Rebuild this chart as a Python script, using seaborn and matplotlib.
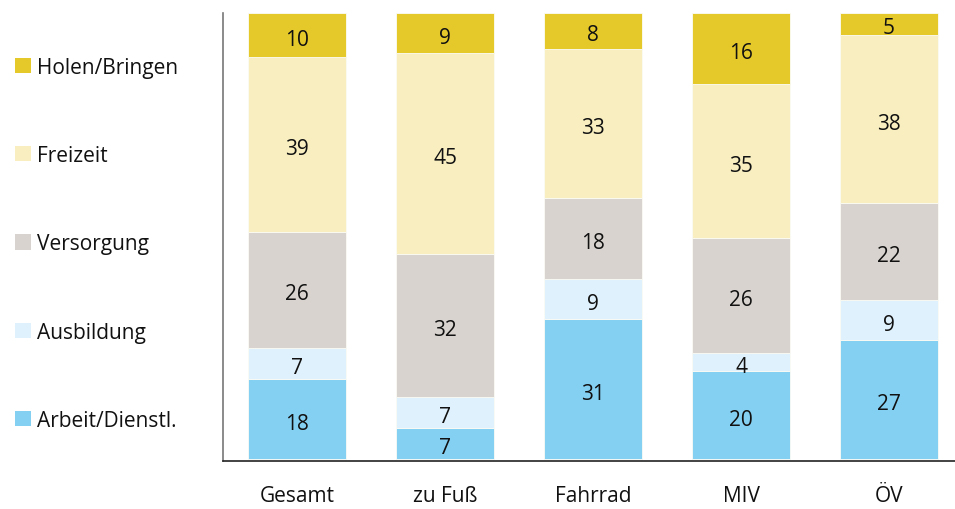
import matplotlib
matplotlib.use("Agg")
import matplotlib.pyplot as plt
from matplotlib import font_manager
from matplotlib.patches import Patch
import numpy as np
import pandas as pd
import seaborn as sns

sns.set_style('white')
names = {f.name for f in font_manager.fontManager.ttflist}
fam = 'Liberation Sans Narrow' if 'Liberation Sans Narrow' in names else 'Open Sans'
plt.rcParams['font.family'] = [fam, 'DejaVu Sans']

# data (shares in %, bottom to top)
modes = ["Gesamt", "zu Fuß", "Fahrrad", "MIV", "ÖV"]
purposes = ["Arbeit/Dienstl.", "Ausbildung", "Versorgung", "Freizeit", "Holen/Bringen"]
arbeit = [18, 7, 31, 20, 27]
ausbildung = [7, 7, 9, 4, 9]
versorgung = [26, 32, 18, 26, 22]
freizeit = [39, 45, 33, 35, 38]
holen = [10, 9, 8, 16, 5]
colors = ["#84D0F3", "#DFF1FC", "#D8D3CE", "#F8EEC0", "#E5C82A"]

df = pd.DataFrame([arbeit, ausbildung, versorgung, freizeit, holen],
                  index=purposes, columns=modes).T
# bars are drawn to full height (rounded values)
shares = df.div(df.sum(axis=1), axis=0) * 100

fig = plt.figure(figsize=(9.55, 5.1), dpi=100)
ax = fig.add_axes([0.2335, 0.094, 0.775, 0.879])

bottom = np.zeros(len(modes))
for p, c in zip(purposes, colors):
    sns.barplot(x=modes, y=shares[p].values, bottom=bottom, color=c,
                saturation=1, width=0.66, ax=ax, edgecolor="#FBFBF5",
                linewidth=0.6)
    cont = ax.containers[-1]
    ax.bar_label(cont, labels=[str(v) for v in df[p]], label_type='center',
                 fontsize=15, color="#111111", padding=-3)
    bottom += shares[p].values

ax.set_xlim(-0.5, 4.5)
ax.set_ylim(-0.4, 100)
ax.set_yticks([])
ax.set_ylabel("")
ax.set_xlabel("")
for s in ["top", "right"]:
    ax.spines[s].set_visible(False)
ax.spines["left"].set_color("#777777")
ax.spines["left"].set_linewidth(1.2)
ax.spines["bottom"].set_color("#222222")
ax.spines["bottom"].set_linewidth(1.2)

ax.set_xticks(range(len(modes)))
ax.set_xticklabels(modes, fontsize=15, color="#111111")
ax.tick_params(axis='x', which='major', length=0, pad=17)
ax.set_xticks(np.arange(-0.5, len(modes), 1), minor=True)
ax.tick_params(axis='x', which='minor', length=9, width=1.2, color="#222222",
               direction='out')

handles = [Patch(facecolor=c, edgecolor='none') for c in colors][::-1]
fig.legend(handles, purposes[::-1], loc='upper left',
           bbox_to_anchor=(0.007, 0.903), frameon=False, fontsize=15,
           handlelength=0.75, handleheight=0.75, handletextpad=0.3,
           labelspacing=3.23, borderaxespad=0, labelcolor="#111111")

fig.savefig("out.png", dpi=100)
